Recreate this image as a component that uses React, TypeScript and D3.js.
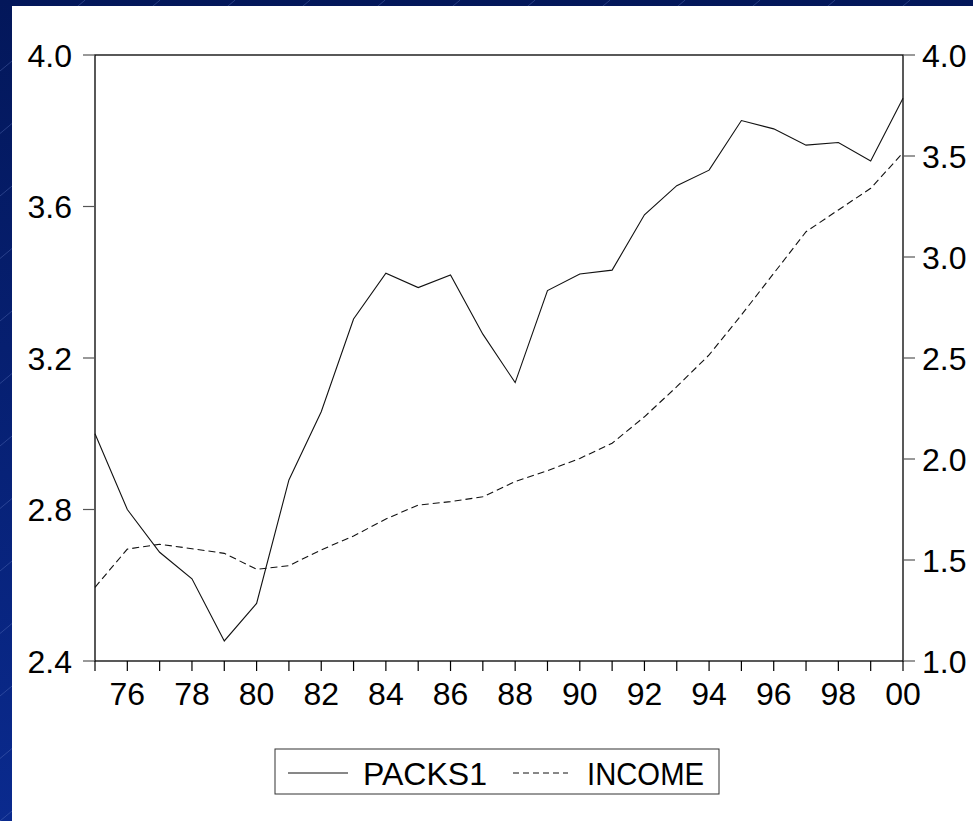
import React from "react";
import * as d3 from "d3";

const years: number[] = [1975, 1976, 1977, 1978, 1979, 1980, 1981, 1982, 1983, 1984, 1985, 1986, 1987, 1988, 1989, 1990, 1991, 1992, 1993, 1994, 1995, 1996, 1997, 1998, 1999, 2000];
const packs1: number[] = [3.00, 2.80, 2.687, 2.617, 2.453, 2.552, 2.878, 3.058, 3.303, 3.424, 3.386, 3.419, 3.263, 3.135, 3.378, 3.422, 3.432, 3.578, 3.655, 3.696, 3.827, 3.805, 3.762, 3.769, 3.720, 3.886];
const income: number[] = [1.365, 1.554, 1.578, 1.556, 1.533, 1.454, 1.472, 1.550, 1.619, 1.703, 1.772, 1.789, 1.813, 1.888, 1.942, 2.003, 2.078, 2.209, 2.358, 2.515, 2.713, 2.919, 3.125, 3.233, 3.340, 3.516];
const leftTicks: number[] = [2.4, 2.8, 3.2, 3.6, 4.0];
const rightTicks: number[] = [1.0, 1.5, 2.0, 2.5, 3.0, 3.5, 4.0];
const xLabelYears: number[] = [1976, 1978, 1980, 1982, 1984, 1986, 1988, 1990, 1992, 1994, 1996, 1998, 2000];
const seriesNames: string[] = ["PACKS1", "INCOME"];

const W = 973;
const H = 821;
const L = 95, R = 903, T = 55, B = 661;
const FONT = "'Liberation Sans', Arial, sans-serif";

export default function App() {
  const x = d3.scaleLinear().domain([1975, 2000]).range([L, R]);
  const yL = d3.scaleLinear().domain([2.4, 4.0]).range([B, T]);
  const yR = d3.scaleLinear().domain([1.0, 4.0]).range([B, T]);
  const lineL = d3.line<number>().x((_, i) => x(years[i])).y((d) => yL(d));
  const lineR = d3.line<number>().x((_, i) => x(years[i])).y((d) => yR(d));
  const allYears = d3.range(1975, 2001);

  const hatch: number[] = d3.range(-900, 1000, 75);

  return (
    <svg width={W} height={H} style={{ position: "absolute", left: 0, top: 0 }} fontFamily={FONT}>
      <defs>
        <linearGradient id="bg" x1="0" y1="0" x2="0" y2="1">
          <stop offset="0" stopColor="#03175a" />
          <stop offset="1" stopColor="#0a2a8e" />
        </linearGradient>
      </defs>
      <rect x={0} y={0} width={W} height={H} fill="url(#bg)" />
      {hatch.map((h, i) => (
        <line key={i} x1={h} y1={H} x2={h + H * 1.2} y2={0} stroke="#6a82c8" strokeWidth={0.6} opacity={0.6} />
      ))}
      <rect x={12} y={6} width={W - 12} height={H - 6} fill="#ffffff" />

      {/* plot frame */}
      <rect x={L} y={T} width={R - L} height={B - T} fill="none" stroke="#000" strokeWidth={1.3} />

      {/* left ticks */}
      {leftTicks.map((t) => (
        <g key={"l" + t}>
          <line x1={L - 12} x2={L} y1={yL(t)} y2={yL(t)} stroke="#555" strokeWidth={1.2} />
          <text x={72} y={yL(t)} dy="0.36em" textAnchor="end" fontSize={32} fill="#000">{t.toFixed(1)}</text>
        </g>
      ))}
      {/* right ticks */}
      {rightTicks.map((t) => (
        <g key={"r" + t}>
          <line x1={R} x2={R + 12} y1={yR(t)} y2={yR(t)} stroke="#555" strokeWidth={1.2} />
          <text x={922} y={yR(t)} dy="0.36em" textAnchor="start" fontSize={32} fill="#000">{t.toFixed(1)}</text>
        </g>
      ))}
      {/* bottom ticks */}
      {allYears.map((yr) => (
        <line key={"b" + yr} x1={x(yr)} x2={x(yr)} y1={B} y2={B + 10} stroke="#000" strokeWidth={1.2} />
      ))}
      {xLabelYears.map((yr) => (
        <text key={"bl" + yr} x={x(yr)} y={705} textAnchor="middle" fontSize={32} fill="#000">
          {String(yr % 100).padStart(2, "0")}
        </text>
      ))}

      {/* series */}
      <path d={lineL(packs1) || ""} fill="none" stroke="#111" strokeWidth={1.1} />
      <path d={lineR(income) || ""} fill="none" stroke="#111" strokeWidth={1.1} strokeDasharray="7,4" />

      {/* legend */}
      <rect x={275} y={749} width={444} height={45} fill="#fff" stroke="#333" strokeWidth={1} />
      <line x1={288} x2={348} y1={773} y2={773} stroke="#111" strokeWidth={1} />
      <text x={363} y={785} fontSize={32} fill="#000" textLength={124} lengthAdjust="spacingAndGlyphs">{seriesNames[0]}</text>
      <line x1={513} x2={568} y1={773} y2={773} stroke="#111" strokeWidth={1} strokeDasharray="6,4" />
      <text x={587} y={785} fontSize={32} fill="#000" textLength={117} lengthAdjust="spacingAndGlyphs">{seriesNames[1]}</text>
    </svg>
  );
}
